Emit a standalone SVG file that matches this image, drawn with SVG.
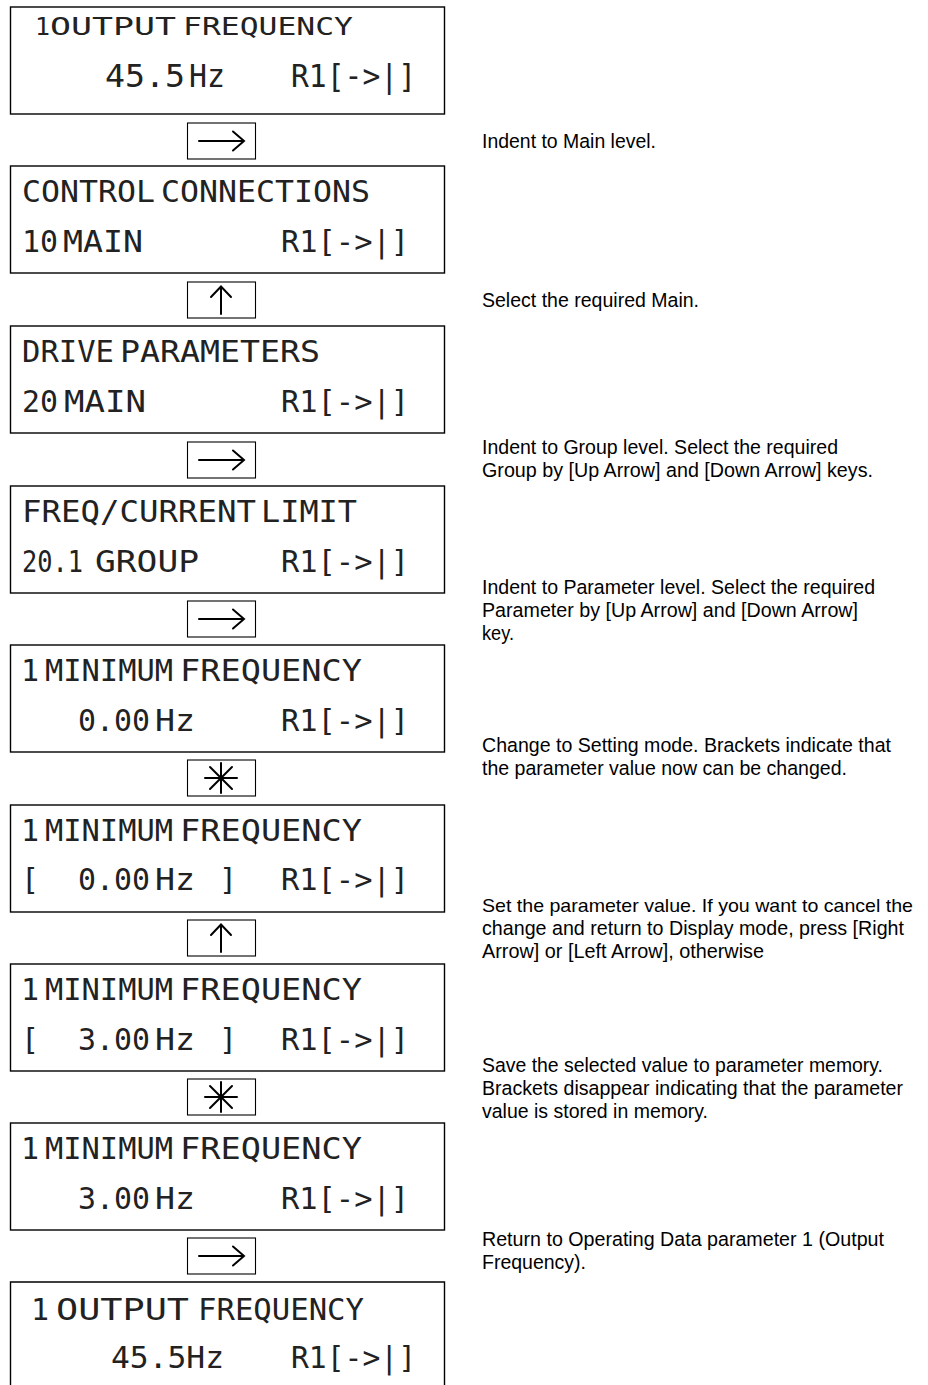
<svg xmlns="http://www.w3.org/2000/svg" width="928" height="1385" viewBox="0 0 928 1385">
<style>
.lcd{fill:none;stroke:#000;stroke-width:1.4}
.key{fill:#fff;stroke:#000;stroke-width:1.1}
.sym{fill:none;stroke:#000;stroke-width:2;stroke-linecap:round;stroke-linejoin:miter}
.d{font-family:"DejaVu Sans Mono","Liberation Mono",monospace;font-size:30px;fill:#222}
.t{font-family:"Liberation Sans Narrow","Liberation Sans",Arial,sans-serif;font-size:20.5px;fill:#000}
</style>
<rect width="928" height="1385" fill="#fff"/>
<g id="lcd1">
<rect class="lcd" x="10.5" y="7" width="434" height="107"/>
<text class="d" x="35" y="35" style="font-size:25px">1</text>
<text class="d" x="50" y="35" style="font-size:25px" textLength="126" lengthAdjust="spacingAndGlyphs">OUTPUT</text>
<text class="d" x="183" y="35" style="font-size:25px" textLength="170" lengthAdjust="spacingAndGlyphs">FREQUENCY</text>
<text class="d" x="105" y="87" style="font-size:32px" textLength="80" lengthAdjust="spacingAndGlyphs">45.5</text>
<text class="d" x="189" y="87" style="font-size:32px" textLength="36" lengthAdjust="spacingAndGlyphs">Hz</text>
<text class="d" x="291" y="87" style="font-size:32px" textLength="125" lengthAdjust="spacingAndGlyphs">R1[-&gt;|]</text>
</g>
<g id="lcd2">
<rect class="lcd" x="10.5" y="166" width="434" height="107"/>
<text class="d" x="22" y="202" textLength="133" lengthAdjust="spacingAndGlyphs">CONTROL</text>
<text class="d" x="161" y="202" textLength="209" lengthAdjust="spacingAndGlyphs">CONNECTIONS</text>
<text class="d" x="22" y="252" textLength="36" lengthAdjust="spacingAndGlyphs">10</text>
<text class="d" x="63" y="252" textLength="80" lengthAdjust="spacingAndGlyphs">MAIN</text>
<text class="d" x="281" y="252" textLength="128" lengthAdjust="spacingAndGlyphs">R1[-&gt;|]</text>
</g>
<g id="lcd3">
<rect class="lcd" x="10.5" y="326" width="434" height="107"/>
<text class="d" x="22" y="362" textLength="92" lengthAdjust="spacingAndGlyphs">DRIVE</text>
<text class="d" x="120" y="362" textLength="200" lengthAdjust="spacingAndGlyphs">PARAMETERS</text>
<text class="d" x="22" y="412" textLength="36" lengthAdjust="spacingAndGlyphs">20</text>
<text class="d" x="64" y="412" textLength="82" lengthAdjust="spacingAndGlyphs">MAIN</text>
<text class="d" x="281" y="412" textLength="128" lengthAdjust="spacingAndGlyphs">R1[-&gt;|]</text>
</g>
<g id="lcd4">
<rect class="lcd" x="10.5" y="486" width="434" height="107"/>
<text class="d" x="22" y="522" textLength="234" lengthAdjust="spacingAndGlyphs">FREQ/CURRENT</text>
<text class="d" x="261" y="522" textLength="96" lengthAdjust="spacingAndGlyphs">LIMIT</text>
<text class="d" x="22" y="572" textLength="61" lengthAdjust="spacingAndGlyphs">20.1</text>
<text class="d" x="95" y="572" textLength="104" lengthAdjust="spacingAndGlyphs">GROUP</text>
<text class="d" x="281" y="572" textLength="128" lengthAdjust="spacingAndGlyphs">R1[-&gt;|]</text>
</g>
<g id="lcd5">
<rect class="lcd" x="10.5" y="645" width="434" height="107"/>
<text class="d" x="21" y="681">1</text>
<text class="d" x="45" y="681" textLength="128" lengthAdjust="spacingAndGlyphs">MINIMUM</text>
<text class="d" x="180" y="681" textLength="182" lengthAdjust="spacingAndGlyphs">FREQUENCY</text>
<text class="d" x="78" y="731" textLength="72" lengthAdjust="spacingAndGlyphs">0.00</text>
<text class="d" x="155" y="731" textLength="40" lengthAdjust="spacingAndGlyphs">Hz</text>
<text class="d" x="281" y="731" textLength="128" lengthAdjust="spacingAndGlyphs">R1[-&gt;|]</text>
</g>
<g id="lcd6">
<rect class="lcd" x="10.5" y="805" width="434" height="107"/>
<text class="d" x="21" y="841">1</text>
<text class="d" x="45" y="841" textLength="128" lengthAdjust="spacingAndGlyphs">MINIMUM</text>
<text class="d" x="180" y="841" textLength="182" lengthAdjust="spacingAndGlyphs">FREQUENCY</text>
<text class="d" x="21" y="890">[</text>
<text class="d" x="78" y="890" textLength="72" lengthAdjust="spacingAndGlyphs">0.00</text>
<text class="d" x="155" y="890" textLength="40" lengthAdjust="spacingAndGlyphs">Hz</text>
<text class="d" x="219" y="890">]</text>
<text class="d" x="281" y="890" textLength="128" lengthAdjust="spacingAndGlyphs">R1[-&gt;|]</text>
</g>
<g id="lcd7">
<rect class="lcd" x="10.5" y="964" width="434" height="107"/>
<text class="d" x="21" y="1000">1</text>
<text class="d" x="45" y="1000" textLength="128" lengthAdjust="spacingAndGlyphs">MINIMUM</text>
<text class="d" x="180" y="1000" textLength="182" lengthAdjust="spacingAndGlyphs">FREQUENCY</text>
<text class="d" x="21" y="1050">[</text>
<text class="d" x="78" y="1050" textLength="72" lengthAdjust="spacingAndGlyphs">3.00</text>
<text class="d" x="155" y="1050" textLength="40" lengthAdjust="spacingAndGlyphs">Hz</text>
<text class="d" x="219" y="1050">]</text>
<text class="d" x="281" y="1050" textLength="128" lengthAdjust="spacingAndGlyphs">R1[-&gt;|]</text>
</g>
<g id="lcd8">
<rect class="lcd" x="10.5" y="1123" width="434" height="107"/>
<text class="d" x="21" y="1159">1</text>
<text class="d" x="45" y="1159" textLength="128" lengthAdjust="spacingAndGlyphs">MINIMUM</text>
<text class="d" x="180" y="1159" textLength="182" lengthAdjust="spacingAndGlyphs">FREQUENCY</text>
<text class="d" x="78" y="1209" textLength="72" lengthAdjust="spacingAndGlyphs">3.00</text>
<text class="d" x="155" y="1209" textLength="40" lengthAdjust="spacingAndGlyphs">Hz</text>
<text class="d" x="281" y="1209" textLength="128" lengthAdjust="spacingAndGlyphs">R1[-&gt;|]</text>
</g>
<g id="lcd9">
<path class="lcd" d="M10.5 1386 V1282 H444.5 V1386"/>
<text class="d" x="31" y="1320">1</text>
<text class="d" x="56" y="1320" textLength="133" lengthAdjust="spacingAndGlyphs">OUTPUT</text>
<text class="d" x="198" y="1320" textLength="166" lengthAdjust="spacingAndGlyphs">FREQUENCY</text>
<text class="d" x="111" y="1368" textLength="113" lengthAdjust="spacingAndGlyphs">45.5Hz</text>
<text class="d" x="291" y="1368" textLength="125" lengthAdjust="spacingAndGlyphs">R1[-&gt;|]</text>
</g>
<g id="connectors">
<g id="key1"><rect class="key" x="187.5" y="123" width="68" height="36"/><path class="sym" d="M199 141 H244 M233 131.5 L244 141 L233 150.5"/></g>
<g id="key2"><rect class="key" x="187.5" y="282" width="68" height="36"/><path class="sym" d="M221 314 V287 M211 297 L221 286.5 L231 297"/></g>
<g id="key3"><rect class="key" x="187.5" y="442" width="68" height="36"/><path class="sym" d="M199 460 H244 M233 450.5 L244 460 L233 469.5"/></g>
<g id="key4"><rect class="key" x="187.5" y="601" width="68" height="36"/><path class="sym" d="M199 619 H244 M233 609.5 L244 619 L233 628.5"/></g>
<g id="key5"><rect class="key" x="187.5" y="760" width="68" height="36"/><path class="sym" d="M205 778 H237 M221 763 V793 M210 767 L232 789 M232 767 L210 789"/></g>
<g id="key6"><rect class="key" x="187.5" y="920" width="68" height="36"/><path class="sym" d="M221 952 V925 M211 935 L221 924.5 L231 935"/></g>
<g id="key7"><rect class="key" x="187.5" y="1079" width="68" height="36"/><path class="sym" d="M205 1097 H237 M221 1082 V1112 M210 1086 L232 1108 M232 1086 L210 1108"/></g>
<g id="key8"><rect class="key" x="187.5" y="1238" width="68" height="36"/><path class="sym" d="M199 1256 H244 M233 1246.5 L244 1256 L233 1265.5"/></g>
</g>
<g id="notes">
<text class="t" x="482" y="148" textLength="174" lengthAdjust="spacingAndGlyphs">Indent to Main level.</text>
<text class="t" x="482" y="307" textLength="217" lengthAdjust="spacingAndGlyphs">Select the required Main.</text>
<text class="t" x="482" y="454" textLength="356" lengthAdjust="spacingAndGlyphs">Indent to Group level. Select the required</text>
<text class="t" x="482" y="477" textLength="391" lengthAdjust="spacingAndGlyphs">Group by [Up Arrow] and [Down Arrow] keys.</text>
<text class="t" x="482" y="594" textLength="393" lengthAdjust="spacingAndGlyphs">Indent to Parameter level. Select the required</text>
<text class="t" x="482" y="617" textLength="376" lengthAdjust="spacingAndGlyphs">Parameter by [Up Arrow] and [Down Arrow]</text>
<text class="t" x="482" y="640" textLength="32" lengthAdjust="spacingAndGlyphs">key.</text>
<text class="t" x="482" y="752" textLength="409" lengthAdjust="spacingAndGlyphs">Change to Setting mode. Brackets indicate that</text>
<text class="t" x="482" y="775" textLength="365" lengthAdjust="spacingAndGlyphs">the parameter value now can be changed.</text>
<text class="t" x="482" y="912" style="font-size:19px" textLength="431" lengthAdjust="spacingAndGlyphs">Set the parameter value. If you want to cancel the</text>
<text class="t" x="482" y="935" textLength="422" lengthAdjust="spacingAndGlyphs">change and return to Display mode, press [Right</text>
<text class="t" x="482" y="958" textLength="282" lengthAdjust="spacingAndGlyphs">Arrow] or [Left Arrow], otherwise</text>
<text class="t" x="482" y="1072" textLength="401" lengthAdjust="spacingAndGlyphs">Save the selected value to parameter memory.</text>
<text class="t" x="482" y="1095" textLength="421" lengthAdjust="spacingAndGlyphs">Brackets disappear indicating that the parameter</text>
<text class="t" x="482" y="1118" textLength="226" lengthAdjust="spacingAndGlyphs">value is stored in memory.</text>
<text class="t" x="482" y="1246" textLength="402" lengthAdjust="spacingAndGlyphs">Return to Operating Data parameter 1 (Output</text>
<text class="t" x="482" y="1269" textLength="104" lengthAdjust="spacingAndGlyphs">Frequency).</text>
</g>
</svg>
